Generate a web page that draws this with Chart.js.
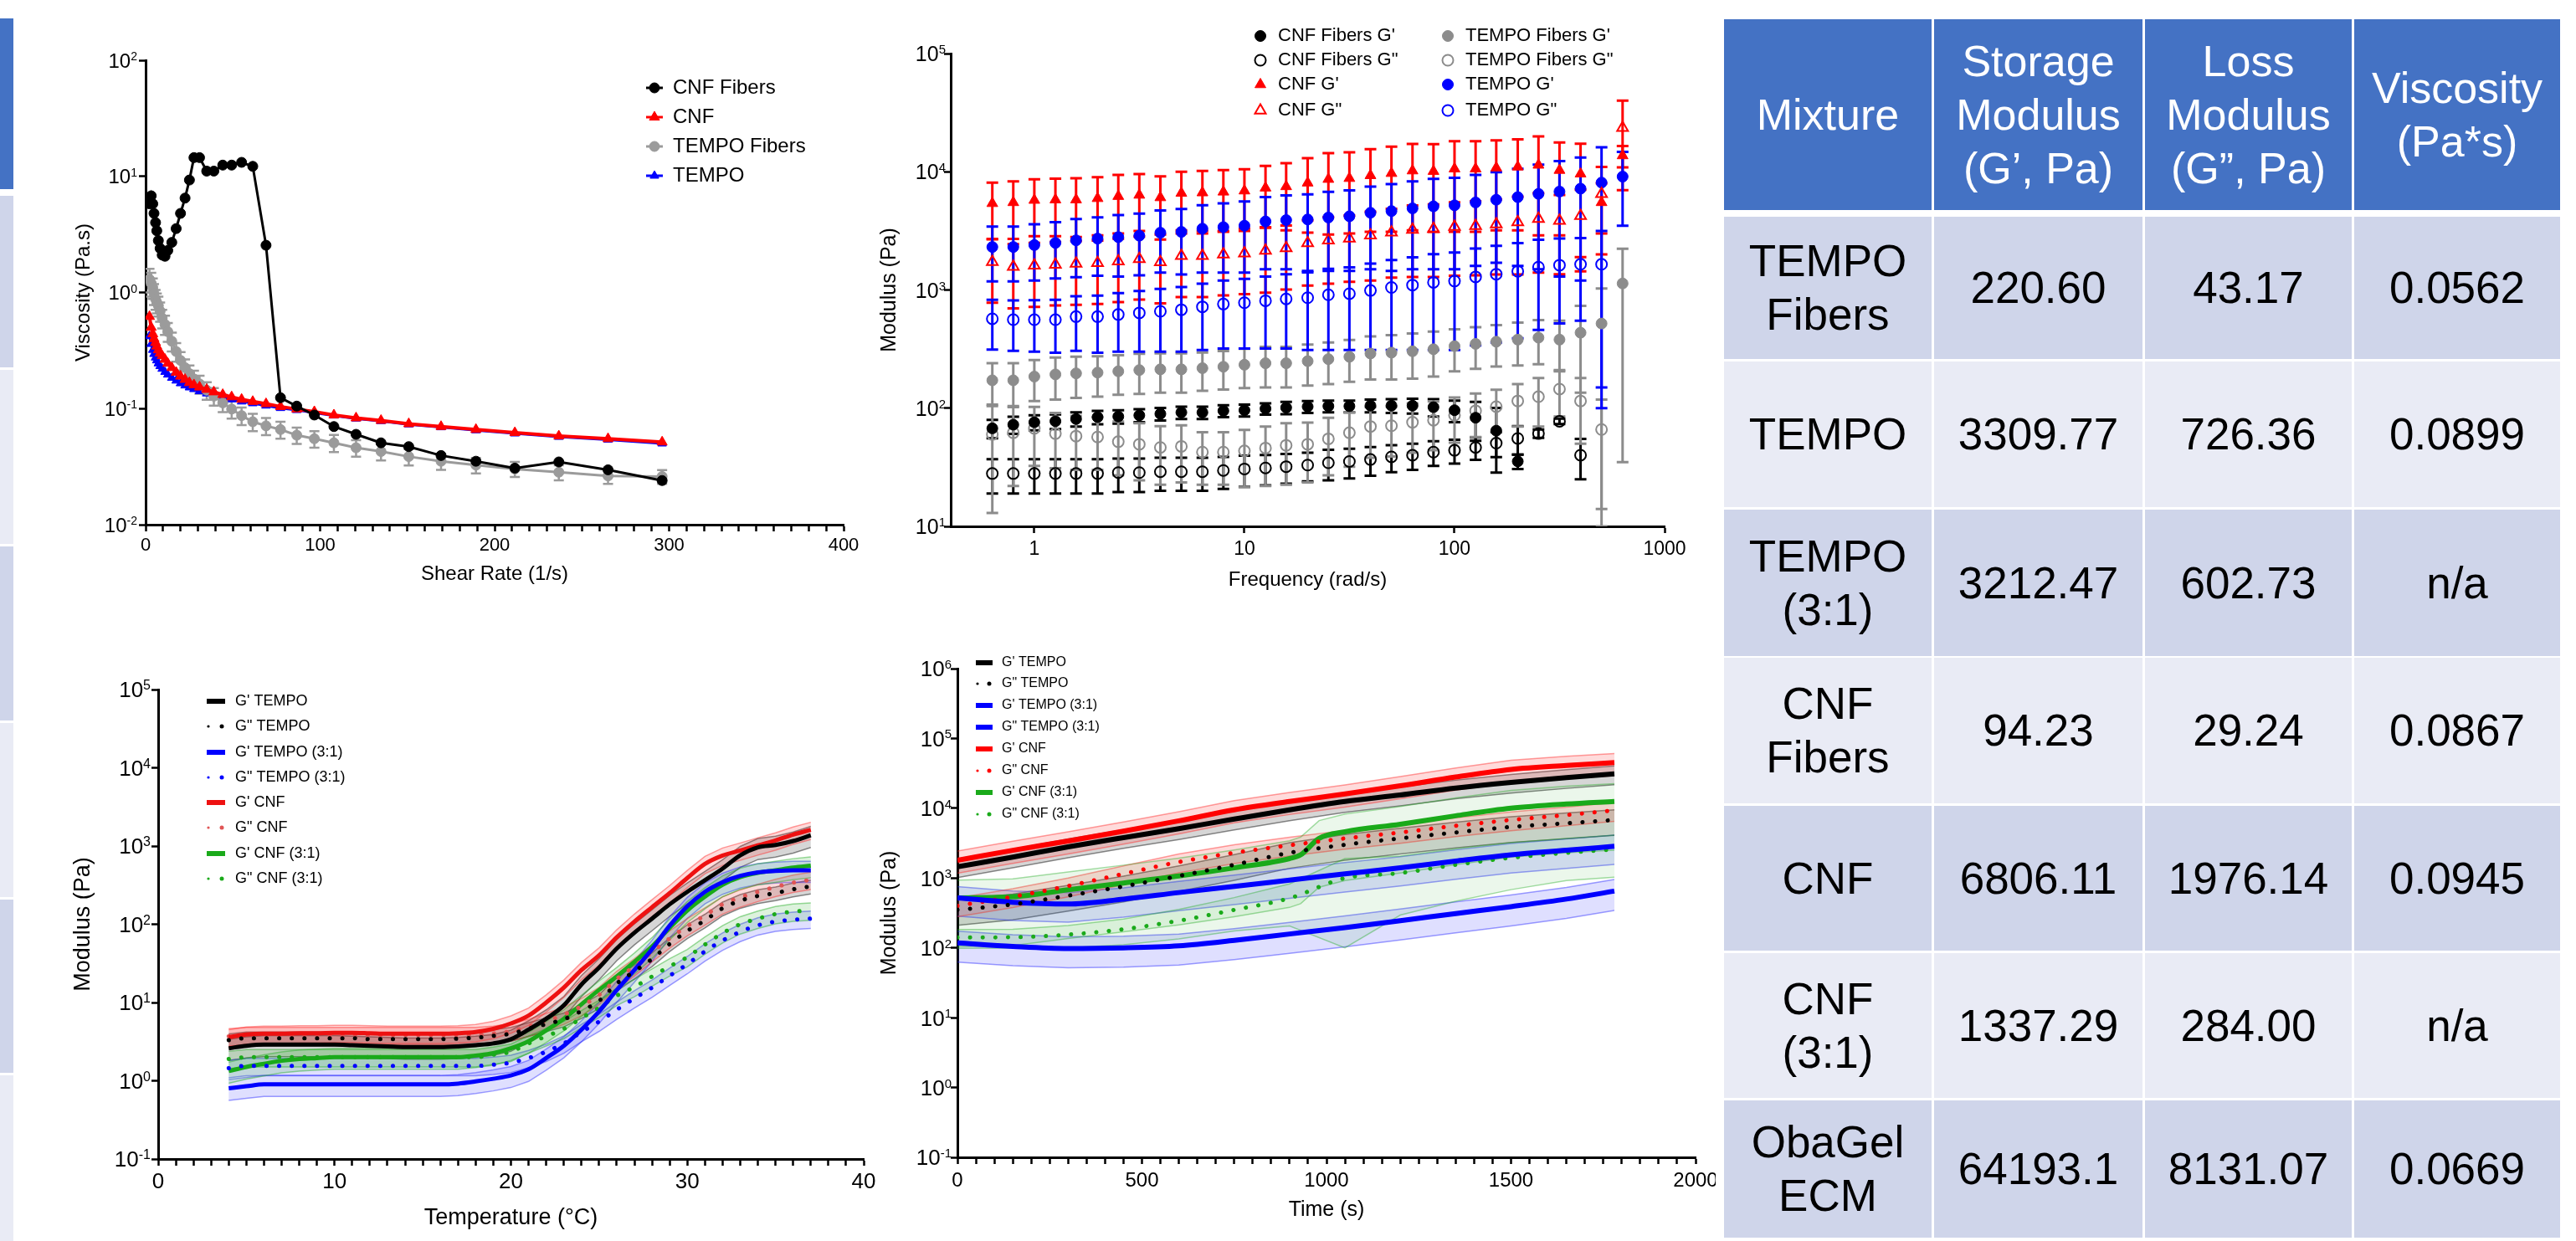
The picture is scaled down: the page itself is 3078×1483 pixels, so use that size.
<!DOCTYPE html>
<html>
<head>
<meta charset="utf-8">
<script src="https://cdn.jsdelivr.net/npm/chart.js@4.4.1/dist/chart.umd.min.js"></script>
<style>
	body { margin: 0; width: 3078px; height: 1483px; position: relative; overflow: hidden; background: #fff; font-family: "Liberation Sans", Arial, sans-serif; }
	canvas { position: absolute; }
	.cell { position: absolute; display: flex; align-items: center; justify-content: center; text-align: center; white-space: pre-line; box-sizing: border-box; }
	.head { background: #4472c4; color: #fff; font-size: 52px; line-height: 64px; }
	.body { color: #000; font-size: 53px; line-height: 64px; }
	.strip { position: absolute; left: 0; width: 16px; }
</style>
</head>
<body>
<canvas id="viscChart" style="left:20px;top:10px" width="1010" height="710"></canvas>
<canvas id="freqChart" style="left:1040px;top:10px" width="1000" height="710"></canvas>
<canvas id="tempChart" style="left:20px;top:740px" width="1040" height="743"></canvas>
<canvas id="timeChart" style="left:1040px;top:740px" width="1010" height="743"></canvas>
<div id="table"></div>

<script>
const FONT = '"Liberation Sans", Arial, sans-serif';

// ---------- viscosity vs shear rate (top left)
const shearRate = [2.2, 3.2, 4.1, 4.8, 5.7, 6.4, 7.3, 8.3, 9.5, 11.1, 12.7, 15, 17.5, 20, 22.6, 25.1, 27.7, 30.9, 35, 39.1, 44.2, 49.3, 55, 61.4, 69, 77.3, 86.6, 96.7, 107.9, 120.6, 134.9, 150.8, 169.3, 189.3, 211.6, 236.8, 265, 296];
const viscCnfFibers = [5.8, 6.8, 5.8, 4.8, 4.0, 3.4, 2.8, 2.4, 2.1, 2.05, 2.3, 2.7, 3.55, 4.8, 6.5, 9.3, 14.5, 14.5, 11.1, 11.1, 12.5, 12.5, 13.2, 12.2, 2.55, 0.124, 0.105, 0.088, 0.070, 0.060, 0.0507, 0.047, 0.0394, 0.0352, 0.0307, 0.0347, 0.0297, 0.024];
const viscCnf = [0.62, 0.50, 0.44, 0.40, 0.37, 0.345, 0.32, 0.30, 0.285, 0.265, 0.245, 0.225, 0.205, 0.19, 0.178, 0.167, 0.16, 0.153, 0.146, 0.139, 0.132, 0.126, 0.12, 0.115, 0.110, 0.104, 0.099, 0.094, 0.088, 0.083, 0.079, 0.074, 0.070, 0.066, 0.062, 0.058, 0.055, 0.0515];
const viscTempoFibers = [1.3, 1.2, 1.1, 0.98, 0.88, 0.82, 0.77, 0.69, 0.6, 0.53, 0.46, 0.38, 0.31, 0.26, 0.225, 0.2, 0.18, 0.163, 0.144, 0.128, 0.112, 0.099, 0.087, 0.077, 0.071, 0.066, 0.059, 0.055, 0.0507, 0.046, 0.0427, 0.0386, 0.0352, 0.0326, 0.0302, 0.0283, 0.0263, 0.026];
const viscTempoFibersSd = [0.3, 0.28, 0.22, 0.2, 0.17, 0.16, 0.15, 0.13, 0.11, 0.1, 0.085, 0.07, 0.057, 0.047, 0.04, 0.035, 0.032, 0.029, 0.025, 0.022, 0.019, 0.017, 0.015, 0.013, 0.012, 0.011, 0.0095, 0.009, 0.0085, 0.0075, 0.007, 0.0062, 0.0055, 0.005, 0.0045, 0.0042, 0.0038, 0.0035];
const viscTempo = [0.42, 0.36, 0.32, 0.295, 0.275, 0.26, 0.245, 0.232, 0.22, 0.207, 0.196, 0.184, 0.174, 0.165, 0.158, 0.152, 0.147, 0.141, 0.135, 0.130, 0.125, 0.120, 0.115, 0.111, 0.106, 0.101, 0.097, 0.092, 0.087, 0.082, 0.078, 0.073, 0.069, 0.065, 0.061, 0.057, 0.054, 0.050];
const viscTicks = [0.01, 0.1, 1, 10, 100];

// ---------- modulus vs frequency (top middle)
const frequency = [0.631, 0.794, 1, 1.26, 1.58, 2, 2.51, 3.16, 3.98, 5.01, 6.31, 7.94, 10, 12.6, 15.8, 20, 25.1, 31.6, 39.8, 50.1, 63.1, 79.4, 100, 126, 158, 200, 251, 316, 398, 501, 631];
const cnfFibersGp = [67.5, 72.5, 76, 77.5, 81, 84, 85, 87, 89.5, 92, 92, 95, 96, 99, 101, 103, 104, 104, 105, 105, 105, 102, 96, 83, 64.5, 35.5, null, null, null, null, null];
const cnfFibersGpSd = [12, 12, 11, 11, 11, 11, 11, 11, 11, 11, 11, 11, 11, 11, 12, 12, 12, 12, 13, 14, 15, 17, 20, 30, 36, 5, null, null, null, null, null];
const cnfFibersGpp = [28, 28, 28, 28, 28, 28, 28.5, 28.5, 29, 29, 29, 29.7, 30.6, 31.2, 32, 33, 34.5, 35.4, 36.8, 38.7, 40, 42.5, 44, 46.5, 50.6, 55.4, 61, 77.5, 40, null, null];
const cnfFibersGppSd = [9, 9, 9, 9, 9, 9, 9, 9, 9, 9, 9, 9, 9, 9, 9, 9, 10, 10, 10, 10, 10, 10, 10, 10, 12, 15, 5, 4, 15, null, null];
const cnfGp = [5400, 5500, 5750, 5800, 5800, 5950, 6200, 6350, 6050, 6600, 6650, 6750, 6900, 7300, 7500, 8050, 8650, 8800, 9300, 9700, 10200, 10100, 10600, 10600, 10800, 11000, 11400, 10300, 9600, 5500, 13700];
const cnfGpSd = [2700, 2800, 2900, 2950, 3000, 3050, 3200, 3200, 3100, 3400, 3500, 3600, 3600, 3900, 4300, 5000, 5700, 5800, 6200, 6600, 7000, 7000, 7500, 7500, 7600, 7800, 8500, 7400, 7700, 2500, 2800];
const cnfGpp = [1730, 1570, 1610, 1640, 1670, 1690, 1750, 1830, 1720, 1940, 1940, 2000, 2040, 2150, 2260, 2490, 2630, 2720, 2900, 3070, 3240, 3290, 3420, 3480, 3600, 3750, 4000, 3860, 4240, 6500, 23500];
const cnfGppSd = [950, 870, 890, 900, 920, 930, 960, 1000, 950, 1070, 1070, 1100, 1120, 1200, 1250, 1400, 1500, 1550, 1700, 1800, 1950, 2000, 2100, 2150, 2250, 2400, 2600, 2500, 2800, 4500, 16500];
const tempoFibersGp = [172, 172, 185, 193, 197, 200, 205, 210, 213, 213, 218, 224, 233, 240, 240, 250, 260, 272, 290, 295, 303, 315, 335, 350, 365, 380, 395, 380, 435, 520, 1135];
const tempoFibersGpSd = [68, 68, 70, 75, 75, 75, 75, 78, 78, 78, 78, 80, 85, 90, 90, 95, 100, 105, 115, 120, 125, 130, 130, 135, 140, 150, 160, 170, 300, 510, 1100];
const tempoFibersGpp = [60, 62, 67.5, 61, 58, 57, 52, 49.5, 46.5, 47.5, 42.5, 42.5, 43.5, 46, 48.5, 49.5, 55, 62, 70, 71, 76, 79, 87, 95, 103, 115, 125, 145, 115, 66, null];
const tempoFibersGppSd = [47, 40, 35, 30, 28, 27, 25, 25, 24, 24, 20, 20, 22, 24, 26, 26, 28, 30, 32, 32, 34, 35, 36, 38, 40, 45, 55, 60, 65, 52, null];
const tempoGp = [2310, 2310, 2400, 2500, 2630, 2720, 2800, 2880, 3050, 3100, 3300, 3400, 3500, 3800, 3900, 3950, 4100, 4200, 4500, 4650, 4900, 5100, 5200, 5500, 5800, 6100, 6500, 6800, 7200, 8100, 9100];
const tempoGpSd = [1130, 1130, 1200, 1250, 1350, 1400, 1500, 1550, 1650, 1750, 1900, 2000, 2100, 2300, 2400, 2500, 2650, 2750, 3000, 3200, 3400, 3600, 3700, 3900, 4100, 4500, 5000, 5500, 6000, 8000, 5600];
const tempoGpp = [570, 560, 560, 560, 595, 595, 620, 640, 660, 680, 720, 760, 780, 810, 840, 860, 910, 930, 990, 1050, 1100, 1160, 1190, 1290, 1360, 1440, 1560, 1620, 1650, 1650, null];
const tempoGppSd = [257, 255, 260, 265, 290, 300, 320, 340, 360, 380, 410, 440, 460, 490, 520, 550, 600, 620, 680, 740, 790, 850, 880, 950, 1000, 1050, 1100, 1100, 1100, 1500, null];
const freqTicks = [1, 10, 100, 1000];
const freqModTicks = [10, 100, 1000, 10000, 100000];

// ---------- modulus vs temperature (bottom left)
const temperature = [4, 5, 6, 7, 8, 9, 10, 11, 12, 13, 14, 15, 16, 17, 18, 19, 20, 21, 22, 23, 24, 25, 26, 27, 28, 29, 30, 31, 32, 33, 34, 35, 36, 37];
const tempGpTempo = [2.6, 2.8, 2.9, 2.9, 2.9, 2.9, 2.9, 2.85, 2.8, 2.75, 2.7, 2.7, 2.7, 2.75, 2.85, 3.0, 3.4, 4.5, 6.2, 9.2, 17, 28, 49, 78, 118, 180, 260, 365, 515, 760, 960, 1030, 1160, 1370];
const tempGppTempo = [3.3, 3.5, 3.5, 3.5, 3.5, 3.5, 3.5, 3.5, 3.4, 3.4, 3.4, 3.4, 3.4, 3.45, 3.55, 3.75, 4.0, 4.6, 5.3, 6.1, 7.8, 10.5, 17.5, 25, 36, 56, 82, 112, 160, 200, 230, 250, 280, 305];
const tempGpTempo31 = [0.8, 0.85, 0.9, 0.9, 0.9, 0.9, 0.9, 0.9, 0.9, 0.9, 0.9, 0.9, 0.9, 0.92, 0.98, 1.06, 1.17, 1.4, 1.95, 2.8, 4.5, 7.7, 14.4, 26, 48, 96, 170, 260, 345, 415, 460, 480, 490, 490];
const tempGppTempo31 = [1.45, 1.55, 1.55, 1.55, 1.55, 1.55, 1.55, 1.55, 1.55, 1.55, 1.55, 1.55, 1.55, 1.55, 1.55, 1.6, 1.7, 1.95, 2.35, 3.0, 4.2, 5.7, 8.1, 11.3, 15.5, 22, 31, 45, 62, 80, 97, 108, 114, 118];
const tempGpCnf = [3.6, 3.9, 4.0, 4.0, 4.05, 4.05, 4.1, 4.1, 4.05, 4.0, 4.0, 4.0, 4.0, 4.05, 4.2, 4.6, 5.4, 6.8, 10, 15.5, 26, 40, 68, 108, 165, 250, 390, 590, 755, 875, 1020, 1180, 1400, 1610];
const tempGppCnf = [3.7, 3.85, 3.85, 3.85, 3.85, 3.85, 3.85, 3.85, 3.85, 3.85, 3.85, 3.85, 3.85, 3.85, 3.85, 4.0, 4.3, 4.9, 5.8, 7.0, 9.0, 12.5, 20, 29, 44, 66, 95, 130, 180, 220, 260, 300, 340, 370];
const tempGpCnf31 = [1.33, 1.5, 1.65, 1.8, 1.9, 1.95, 2.0, 2.0, 2.0, 2.0, 2.0, 2.0, 2.0, 2.0, 2.1, 2.25, 2.6, 3.2, 4.4, 6.2, 9.5, 14.5, 21.6, 33, 52, 90, 150, 225, 320, 400, 455, 490, 530, 560];
const tempGppCnf31 = [1.9, 2.0, 2.0, 2.0, 2.0, 2.0, 2.0, 2.0, 2.0, 2.0, 2.0, 2.0, 2.0, 2.0, 2.0, 2.15, 2.35, 3.0, 3.7, 4.6, 6.3, 8.6, 12.2, 15.8, 21.5, 29, 38, 55, 77, 100, 118, 135, 145, 150];
// relative standard deviation of each temperature series
const tempSpread = [0.3, 0.2, 0.3, 0.25, 0.25, 0.25, 0.3, 0.25];
const tempModTicks = [0.1, 1, 10, 100, 1000, 10000, 100000];

// ---------- modulus vs time (bottom middle)
const time = [0, 150, 300, 450, 600, 750, 900, 1050, 1200, 1350, 1500, 1650, 1780];
const timeGpTempo = [1450, 2000, 2800, 3800, 5100, 7000, 9500, 12500, 15500, 19500, 23500, 27500, 31000];
const timeGppTempo = [350, 420, 560, 760, 1070, 1550, 2300, 3000, 3700, 4500, 5400, 6100, 6800];
const timeGpTempo31 = [520, 450, 425, 500, 620, 760, 935, 1150, 1400, 1750, 2150, 2500, 2850];
const timeGppTempo31 = [118, 105, 98, 100, 107, 128, 158, 195, 245, 310, 390, 500, 650];
const timeGpCnf = [1800, 2500, 3400, 4700, 6600, 9500, 12500, 16000, 21000, 28000, 36000, 41000, 45000];
const timeGppCnf = [400, 540, 770, 1150, 1700, 2300, 2950, 3700, 4500, 5600, 6800, 8000, 9300];
const timeCnf31 = [0, 150, 300, 450, 600, 750, 900, 930, 980, 1050, 1200, 1350, 1500, 1650, 1780];
const timeGpCnf31 = [520, 540, 680, 850, 1070, 1400, 1900, 2150, 3700, 4600, 5900, 7800, 10000, 11500, 12500];
const timeGppCnf31 = [141, 142, 155, 185, 245, 350, 515, 1000, 1180, 1550, 1950, 2300, 2580];
const timeGppCnf31Spread = [0.3, 0.3, 0.35, 0.4, 0.45, 0.5, 0.6, 0.9, 0.75, 0.7, 0.65, 0.6, 0.6];
const timeSpread = [0.3, 0.4, 0.45, 0.47, 0.35, 0.3, 0.8];
const timeModTicks = [0.1, 1, 10, 100, 1000, 10000, 100000, 1000000];

// ---------- table
const tableHeader = ['Mixture', 'Storage\nModulus\n(G\u2019, Pa)', 'Loss\nModulus\n(G\u201d, Pa)', 'Viscosity\n(Pa*s)'];
const mixtures = ['TEMPO\nFibers', 'TEMPO', 'TEMPO\n(3:1)', 'CNF\nFibers', 'CNF', 'CNF\n(3:1)', 'ObaGel\nECM'];
const storageModulus = ['220.60', '3309.77', '3212.47', '94.23', '6806.11', '1337.29', '64193.1'];
const lossModulus = ['43.17', '726.36', '602.73', '29.24', '1976.14', '284.00', '8131.07'];
const viscosity = ['0.0562', '0.0899', 'n/a', '0.0867', '0.0945', 'n/a', '0.0669'];

function pts(xs, ys) {
	return xs.map((x, i) => ({ x: x, y: ys[i] }));
}

// draws one marker like Chart.js does, used by the legends
function markerAt(ctx, ds, x, y) {
	const r = ds.pointRadius;
	ctx.beginPath();
	if (ds.pointStyle === 'triangle') {
		for (let k = 0; k < 3; k++) {
			const a = k * 2 * Math.PI / 3;
			const px = x + Math.sin(a) * r, py = y - Math.cos(a) * r;
			if (k) ctx.lineTo(px, py); else ctx.moveTo(px, py);
		}
		ctx.closePath();
	} else {
		ctx.arc(x, y, r, 0, Math.PI * 2);
	}
	if (ds.pointBackgroundColor !== 'transparent') {
		ctx.fillStyle = ds.pointBackgroundColor;
		ctx.fill();
	}
	if (ds.pointBorderWidth) {
		ctx.lineWidth = ds.pointBorderWidth;
		ctx.strokeStyle = ds.borderColor;
		ctx.stroke();
	}
}

const errorBars = {
	id: 'errorBars',
	beforeDatasetsDraw(chart, args, o) {
		const { ctx, chartArea, scales: { x, y } } = chart;
		ctx.save();
		ctx.beginPath();
		ctx.rect(chartArea.left, chartArea.top, chartArea.width, chartArea.height);
		ctx.clip();
		chart.data.datasets.forEach(ds => {
			if (!ds.errors) return;
			ctx.strokeStyle = ds.borderColor;
			ctx.lineWidth = o.width || 3;
			ds.data.forEach((p, i) => {
				const sd = ds.errors[i];
				if (p.y == null || sd == null) return;
				const px = x.getPixelForValue(p.x);
				const top = y.getPixelForValue(p.y + sd);
				const low = p.y - sd;
				const bot = low > 0 ? y.getPixelForValue(low) : chartArea.bottom;
				const c = o.cap || 7;
				ctx.beginPath();
				ctx.moveTo(px, top); ctx.lineTo(px, bot);
				ctx.moveTo(px - c, top); ctx.lineTo(px + c, top);
				if (low > 0) { ctx.moveTo(px - c, bot); ctx.lineTo(px + c, bot); }
				ctx.stroke();
			});
		});
		ctx.restore();
	}
};

const errorBands = {
	id: 'errorBands',
	beforeDatasetsDraw(chart) {
		const { ctx, chartArea, scales: { x, y } } = chart;
		ctx.save();
		ctx.beginPath();
		ctx.rect(chartArea.left, chartArea.top, chartArea.width, chartArea.height);
		ctx.clip();
		chart.data.datasets.forEach(ds => {
			if (ds.spread == null) return;
			const up = [], lo = [];
			ds.data.forEach((p, i) => {
				const f = Array.isArray(ds.spread) ? ds.spread[i] : ds.spread;
				const px = x.getPixelForValue(p.x);
				up.push([px, y.getPixelForValue(p.y * (1 + f))]);
				lo.push([px, y.getPixelForValue(Math.max(p.y * (1 - f), y.min))]);
			});
			const trace = line => line.forEach(([a, b], k) => k ? ctx.lineTo(a, b) : ctx.moveTo(a, b));
			ctx.beginPath();
			trace(up);
			lo.slice().reverse().forEach(([a, b]) => ctx.lineTo(a, b));
			ctx.closePath();
			ctx.fillStyle = ds.bandFill;
			ctx.fill();
			ctx.strokeStyle = ds.bandEdge;
			ctx.lineWidth = 1.5;
			ctx.beginPath(); trace(up); ctx.stroke();
			ctx.beginPath(); trace(lo); ctx.stroke();
		});
		ctx.restore();
	}
};

// y tick labels as 10 with a raised exponent
const supTicks = {
	id: 'supTicks',
	afterDraw(chart, args, o) {
		const ctx = chart.ctx, ys = chart.scales.y;
		ctx.save();
		ctx.fillStyle = '#000';
		ctx.textBaseline = 'alphabetic';
		o.ticks.forEach(v => {
			const e = String(Math.round(Math.log10(v)));
			const py = ys.getPixelForValue(v);
			ctx.font = o.exp + 'px ' + FONT;
			const ew = ctx.measureText(e).width;
			ctx.textAlign = 'left';
			ctx.fillText(e, o.right - ew, py);
			ctx.font = o.base + 'px ' + FONT;
			ctx.textAlign = 'right';
			ctx.fillText('10', o.right - ew, py + o.base * 0.36);
		});
		ctx.restore();
	}
};

const plotLegend = {
	id: 'plotLegend',
	afterDraw(chart, args, o) {
		if (!o.items) return;
		const ctx = chart.ctx;
		ctx.save();
		ctx.font = o.font;
		ctx.textBaseline = 'middle';
		ctx.textAlign = 'left';
		o.items.forEach(([i, cx, cy]) => {
			const ds = chart.data.datasets[i];
			const h = o.half;
			if (ds.showLine === false) {
				markerAt(ctx, ds, cx, cy);
			} else if (ds.borderDash) {
				ctx.fillStyle = ds.borderColor;
				[[-h + 2, 1.6], [h - 4, ds.borderWidth / 2]].forEach(([dx, r]) => {
					ctx.beginPath();
					ctx.arc(cx + dx, cy, r, 0, Math.PI * 2);
					ctx.fill();
				});
			} else {
				ctx.strokeStyle = ds.borderColor;
				ctx.lineWidth = o.lineWidth || ds.borderWidth;
				ctx.beginPath();
				ctx.moveTo(cx - h, cy);
				ctx.lineTo(cx + h, cy);
				ctx.stroke();
				if (ds.pointRadius) markerAt(ctx, ds, cx, cy);
			}
			ctx.fillStyle = '#000';
			ctx.fillText(ds.label, cx + o.gap, cy);
		});
		ctx.restore();
	}
};

function xLinear(o) {
	return {
		type: 'linear', min: o.min, max: o.max,
		border: { color: '#000', width: 3 },
		grid: { drawOnChartArea: false, drawTicks: true, tickLength: 8, tickColor: '#000', tickWidth: 2.5 },
		ticks: {
			stepSize: o.step, autoSkip: false, maxTicksLimit: 1000, maxRotation: 0, padding: o.pad, color: '#000',
			font: { family: FONT, size: o.size },
			callback: v => (v % o.major === 0 ? String(v) : '')
		},
		title: { display: true, text: o.title, color: '#000', font: { family: FONT, size: o.titleSize }, padding: { top: 0, bottom: o.titlePad } },
		afterFit: s => { s.height = o.height; s.paddingLeft = 0; s.paddingRight = 0; }
	};
}

function xLog(o) {
	return {
		type: 'logarithmic', min: o.min, max: o.max,
		afterBuildTicks: s => { s.ticks = o.ticks.map(v => ({ value: v })); },
		border: { color: '#000', width: 3 },
		grid: { drawOnChartArea: false, drawTicks: true, tickLength: 8, tickColor: '#000', tickWidth: 2.5 },
		ticks: { autoSkip: false, maxRotation: 0, padding: o.pad, color: '#000', font: { family: FONT, size: o.size }, callback: v => String(v) },
		title: { display: true, text: o.title, color: '#000', font: { family: FONT, size: o.titleSize }, padding: { top: 0, bottom: o.titlePad } },
		afterFit: s => { s.height = o.height; s.paddingLeft = 0; s.paddingRight = 0; }
	};
}

function yLog(o) {
	return {
		type: 'logarithmic', min: o.ticks[0], max: o.ticks[o.ticks.length - 1],
		afterBuildTicks: s => { s.ticks = o.ticks.map(v => ({ value: v })); },
		border: { color: '#000', width: 3 },
		grid: { drawOnChartArea: false, drawTicks: true, tickLength: 8, tickColor: '#000', tickWidth: 2.5 },
		ticks: { autoSkip: false, callback: () => '' },
		title: { display: true, text: o.title, color: '#000', font: { family: FONT, size: o.titleSize }, padding: { top: o.titlePad, bottom: 0 } },
		afterFit: s => { s.width = o.width; s.paddingTop = 0; s.paddingBottom = 0; }
	};
}

function makeChart(id, cfg) {
	return new Chart(document.getElementById(id), {
		type: 'line',
		data: { datasets: cfg.datasets },
		options: {
			responsive: false,
			animation: false,
			devicePixelRatio: 1,
			layout: { padding: cfg.padding },
			elements: { line: { tension: 0 } },
			plugins: {
				legend: { display: false },
				tooltip: { enabled: false },
				plotLegend: cfg.legend,
				supTicks: cfg.sup,
				errorBars: cfg.bars || {}
			},
			scales: { x: cfg.x, y: cfg.y }
		},
		plugins: [errorBands, errorBars, supTicks, plotLegend]
	});
}

function marked(label, xs, ys, color, style, radius, extra) {
	return Object.assign({
		label: label, data: pts(xs, ys),
		borderColor: color, backgroundColor: color,
		pointStyle: style, pointRadius: radius,
		pointBackgroundColor: color, pointBorderColor: color, pointBorderWidth: 1
	}, extra || {});
}

// top left
makeChart('viscChart', {
	padding: { left: 0, top: 62, right: 22, bottom: 0 },
	datasets: [
		marked('CNF Fibers', shearRate, viscCnfFibers, '#000000', 'circle', 6, { borderWidth: 3 }),
		marked('CNF', shearRate, viscCnf, '#ff0000', 'triangle', 7, { borderWidth: 4 }),
		marked('TEMPO Fibers', shearRate, viscTempoFibers, '#9b9b9b', 'circle', 6, { borderWidth: 3, errors: viscTempoFibersSd }),
		marked('TEMPO', shearRate, viscTempo, '#0000ff', 'triangle', 6, { borderWidth: 3 })
	],
	bars: { width: 2.5, cap: 6 },
	x: xLinear({ min: 0, max: 400, step: 10, major: 100, size: 22, pad: 4, title: 'Shear Rate (1/s)', titleSize: 24, titlePad: 19.6, height: 93 }),
	y: yLog({ ticks: viscTicks, title: 'Viscosity (Pa.s)', titleSize: 24, titlePad: 65.6, width: 154 }),
	sup: { ticks: viscTicks, base: 24, exp: 14, right: 144 },
	legend: { font: '24px ' + FONT, half: 10, gap: 22, lineWidth: 3, items: [[0, 762, 95], [1, 762, 130], [2, 762, 165], [3, 762, 200]] }
});

// top middle
const noLine = { showLine: false };
const hollow = { showLine: false, pointBackgroundColor: 'transparent', pointBorderWidth: 2 };
makeChart('freqChart', {
	padding: { left: 0, top: 54, right: 51, bottom: 0 },
	datasets: [
		marked('CNF Fibers G\'', frequency, cnfFibersGp, '#000000', 'circle', 6.5, Object.assign({ errors: cnfFibersGpSd }, noLine)),
		marked('CNF Fibers G"', frequency, cnfFibersGpp, '#000000', 'circle', 6.5, Object.assign({ errors: cnfFibersGppSd }, hollow)),
		marked('CNF G\'', frequency, cnfGp, '#ff0000', 'triangle', 7.5, Object.assign({ errors: cnfGpSd }, noLine)),
		marked('CNF G"', frequency, cnfGpp, '#ff0000', 'triangle', 7.5, Object.assign({ errors: cnfGppSd }, hollow)),
		marked('TEMPO Fibers G\'', frequency, tempoFibersGp, '#8c8c8c', 'circle', 6.5, Object.assign({ errors: tempoFibersGpSd }, noLine)),
		marked('TEMPO Fibers G"', frequency, tempoFibersGpp, '#8c8c8c', 'circle', 6.5, Object.assign({ errors: tempoFibersGppSd }, hollow)),
		marked('TEMPO G\'', frequency, tempoGp, '#0000ff', 'circle', 6.5, Object.assign({ errors: tempoGpSd }, noLine)),
		marked('TEMPO G"', frequency, tempoGpp, '#0000ff', 'circle', 6.5, Object.assign({ errors: tempoGppSd }, hollow))
	],
	bars: { width: 3, cap: 7 },
	x: xLog({ min: 0.4, max: 1000, ticks: freqTicks, size: 23, pad: 6, title: 'Frequency (rad/s)', titleSize: 24, titlePad: 12.6, height: 91 }),
	y: yLog({ ticks: freqModTicks, title: 'Modulus (Pa)', titleSize: 25, titlePad: 8, width: 96 }),
	sup: { ticks: freqModTicks, base: 25, exp: 15, right: 90 },
	legend: {
		font: '22px ' + FONT, half: 8, gap: 21,
		items: [[0, 466, 33], [1, 466, 62], [2, 466, 91], [3, 466, 122], [4, 690, 33], [5, 690, 62], [6, 690, 91], [7, 690, 122]]
	}
});

function traced(label, xs, ys, color, dotted, spread, band, width) {
	const ds = {
		label: label, data: pts(xs, ys), borderColor: color, backgroundColor: color,
		borderWidth: width, pointRadius: 0, cubicInterpolationMode: 'monotone',
		spread: spread, bandFill: band[0], bandEdge: band[1]
	};
	if (dotted) {
		ds.borderDash = [0.1, 15];
		ds.borderCapStyle = 'round';
	}
	return ds;
}

const bandBlack = ['rgba(0,0,0,0.16)', 'rgba(0,0,0,0.45)'];
const bandBlue = ['rgba(40,40,255,0.15)', 'rgba(40,40,255,0.45)'];
const bandRed = ['rgba(255,40,40,0.17)', 'rgba(255,40,40,0.45)'];
const bandGreen = ['rgba(30,170,30,0.15)', 'rgba(30,170,30,0.45)'];
const bandGreenLight = ['rgba(30,170,30,0.09)', 'rgba(30,170,30,0.4)'];

// bottom left
makeChart('tempChart', {
	padding: { left: 0, top: 84, right: 28, bottom: 0 },
	datasets: [
		traced('G\' TEMPO', temperature, tempGpTempo, '#000000', false, tempSpread[0], bandBlack, 5),
		traced('G" TEMPO', temperature, tempGppTempo, '#000000', true, tempSpread[1], bandBlack, 5),
		traced('G\' TEMPO (3:1)', temperature, tempGpTempo31, '#0000ff', false, tempSpread[2], bandBlue, 5),
		traced('G" TEMPO (3:1)', temperature, tempGppTempo31, '#0000ff', true, tempSpread[3], bandBlue, 5),
		traced('G\' CNF', temperature, tempGpCnf, '#ee1111', false, tempSpread[4], bandRed, 5),
		traced('G" CNF', temperature, tempGppCnf, '#e05555', true, tempSpread[5], bandRed, 5),
		traced('G\' CNF (3:1)', temperature, tempGpCnf31, '#1aaa1a', false, tempSpread[6], bandGreen, 5),
		traced('G" CNF (3:1)', temperature, tempGppCnf31, '#1aaa1a', true, tempSpread[7], bandGreen, 5)
	],
	x: xLinear({ min: 0, max: 40, step: 1, major: 10, size: 26, pad: 4, title: 'Temperature (\u00b0C)', titleSize: 27, titlePad: 10.8, height: 98 }),
	y: yLog({ ticks: tempModTicks, title: 'Modulus (Pa)', titleSize: 27, titlePad: 63.8, width: 169 }),
	sup: { ticks: tempModTicks, base: 26, exp: 16, right: 160 },
	legend: {
		font: '18px ' + FONT, half: 11, gap: 23, lineWidth: 6,
		items: [[0, 238, 98], [1, 238, 128], [2, 238, 159], [3, 238, 189], [4, 238, 219], [5, 238, 249], [6, 238, 280], [7, 238, 310]]
	}
});

// bottom middle
makeChart('timeChart', {
	padding: { left: 0, top: 59, right: 24, bottom: 0 },
	datasets: [
		traced('G\' TEMPO', time, timeGpTempo, '#000000', false, timeSpread[0], bandBlack, 6),
		traced('G" TEMPO', time, timeGppTempo, '#000000', true, timeSpread[1], bandBlack, 5),
		traced('G\' TEMPO (3:1)', time, timeGpTempo31, '#0000ff', false, timeSpread[2], bandBlue, 6),
		traced('G" TEMPO (3:1)', time, timeGppTempo31, '#0000ff', false, timeSpread[3], bandBlue, 6),
		traced('G\' CNF', time, timeGpCnf, '#ff0000', false, timeSpread[4], bandRed, 6),
		traced('G" CNF', time, timeGppCnf, '#ff0000', true, timeSpread[5], bandRed, 5),
		traced('G\' CNF (3:1)', timeCnf31, timeGpCnf31, '#1aaa1a', false, timeSpread[6], bandGreenLight, 6),
		traced('G" CNF (3:1)', time, timeGppCnf31, '#1aaa1a', true, timeGppCnf31Spread, bandGreenLight, 5)
	],
	x: xLinear({ min: 0, max: 2000, step: 50, major: 500, size: 24, pad: 6, title: 'Time (s)', titleSize: 25, titlePad: 22, height: 100 }),
	y: yLog({ ticks: timeModTicks, title: 'Modulus (Pa)', titleSize: 25, titlePad: 8, width: 104 }),
	sup: { ticks: timeModTicks, base: 26, exp: 15, right: 97 },
	legend: {
		font: '16px ' + FONT, half: 10, gap: 21, lineWidth: 6,
		items: [[0, 136, 52], [1, 136, 77], [2, 136, 103], [3, 136, 129], [4, 136, 155], [5, 136, 181], [6, 136, 207], [7, 136, 233]]
	}
});

// table on the right, plus the cut-off edge of another table at the far left
const table = document.getElementById('table');
const colLefts = [2060, 2311, 2563, 2813];
const colWidths = [248, 249, 247, 246];
const rowTops = [259, 432, 609, 786, 963, 1139, 1315];
const rowHeights = [170, 174, 175, 174, 173, 173, 164];

function addCell(cls, text, left, top, width, height, bg) {
	const d = document.createElement('div');
	d.className = 'cell ' + cls;
	d.style.cssText = `left:${left}px;top:${top}px;width:${width}px;height:${height}px;` + (bg ? `background:${bg};` : '');
	d.textContent = text;
	table.appendChild(d);
}

tableHeader.forEach((t, c) => addCell('head', t, colLefts[c], 23, colWidths[c], 228));
mixtures.forEach((m, r) => {
	const bg = r % 2 === 0 ? '#cfd5ea' : '#e9ebf5';
	[m, storageModulus[r], lossModulus[r], viscosity[r]].forEach((t, c) => {
		addCell('body', t, colLefts[c], rowTops[r], colWidths[c], rowHeights[r], bg);
	});
});

const stripTops = [22, 234, 442, 653, 864, 1075, 1285];
const stripHeights = [204, 205, 208, 208, 208, 207, 198];
stripTops.forEach((t, i) => {
	const d = document.createElement('div');
	d.className = 'strip';
	d.style.top = t + 'px';
	d.style.height = stripHeights[i] + 'px';
	d.style.background = i === 0 ? '#4472c4' : (i % 2 ? '#cfd5ea' : '#e9ebf5');
	table.appendChild(d);
});
</script>
</body>
</html>
